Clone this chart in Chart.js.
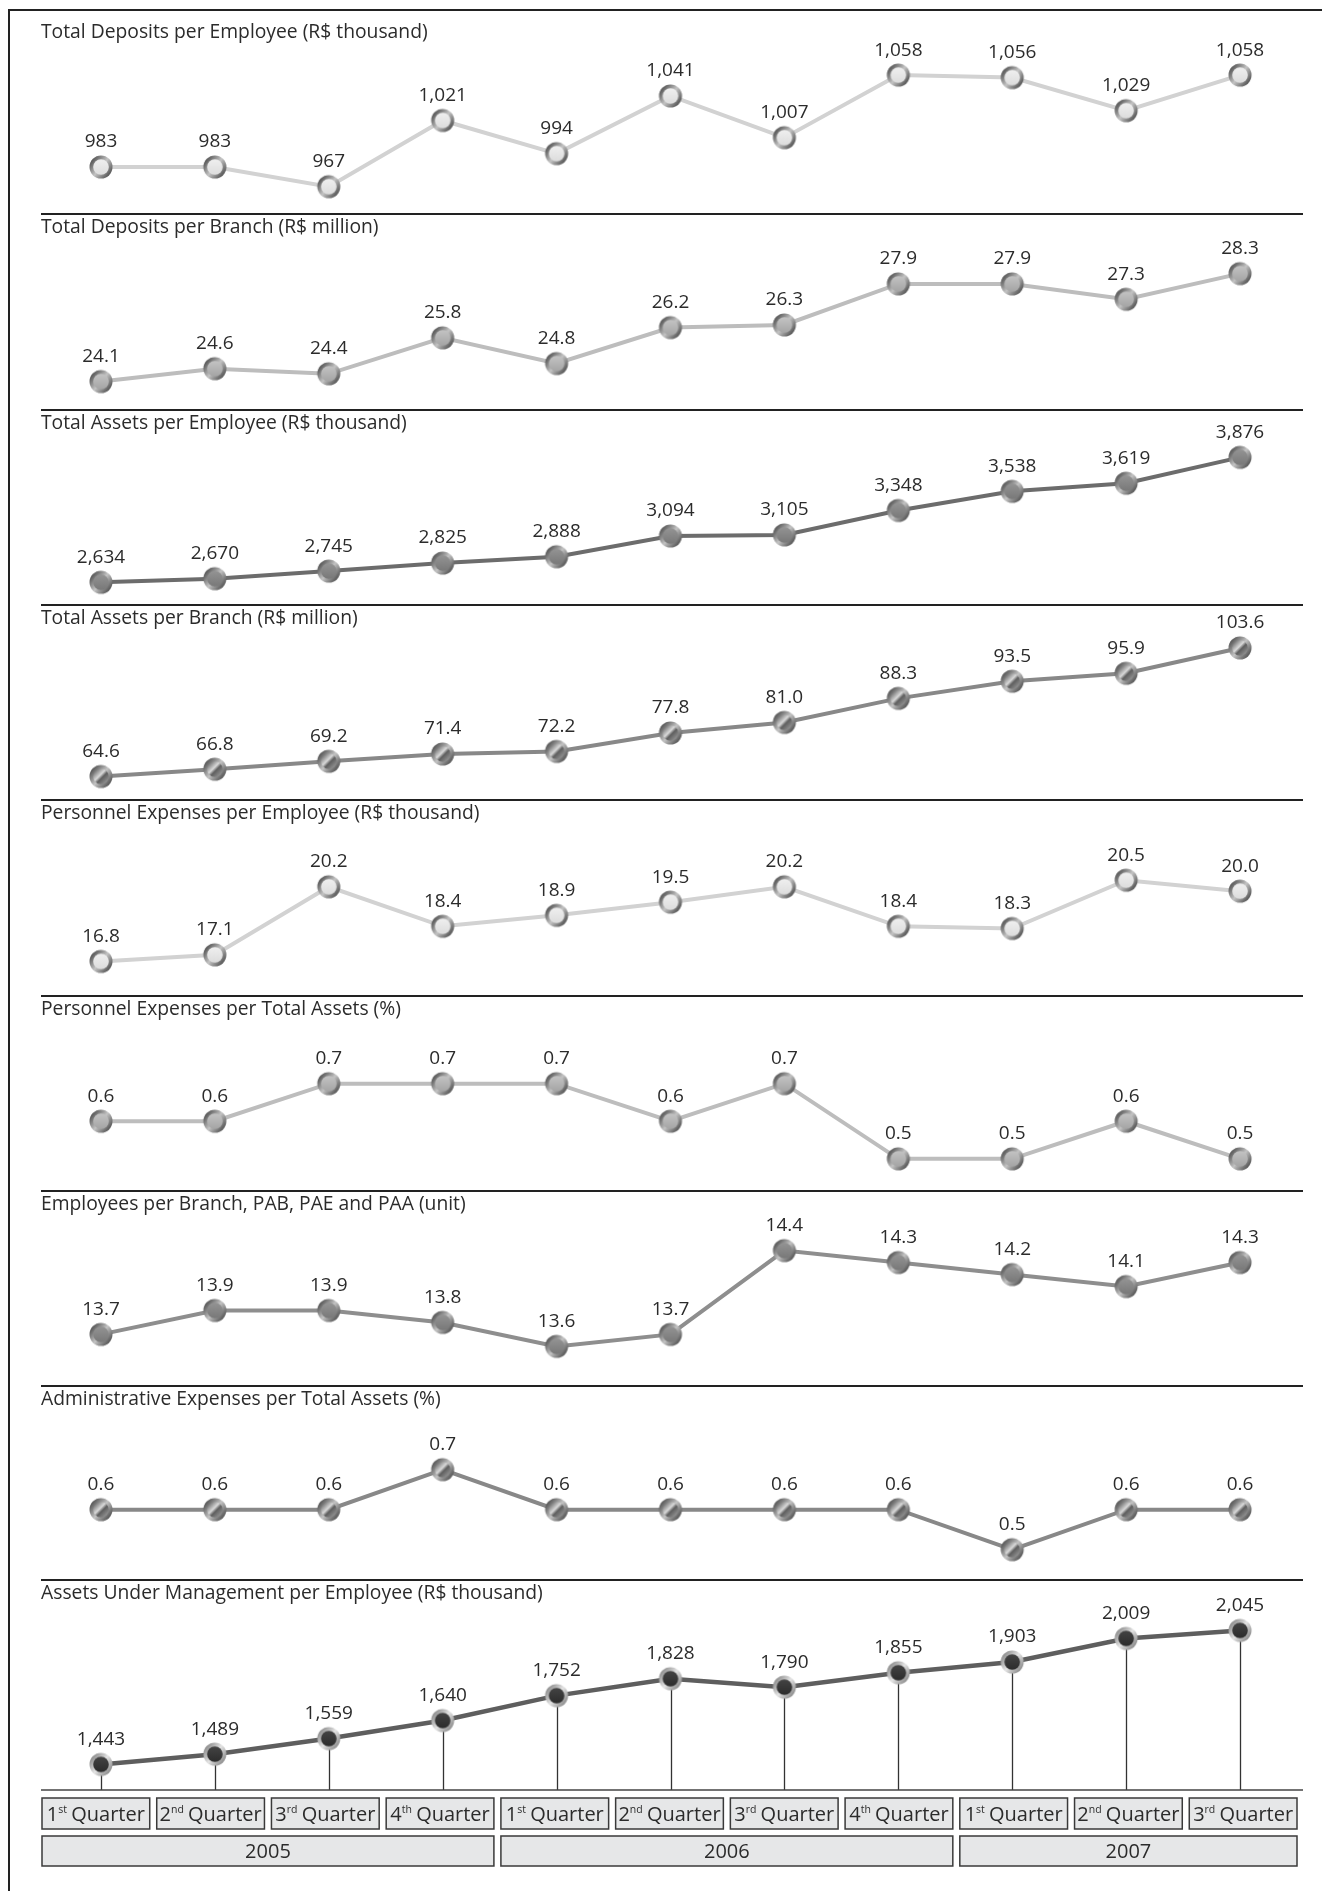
<!DOCTYPE html>
<html>
<head>
<meta charset="utf-8">
<script src="https://cdn.jsdelivr.net/npm/chart.js@4.4.0/dist/chart.umd.min.js"></script>
<style>
  body { margin: 0; background: #fff; }
  #page { position: relative; width: 1322px; height: 1891px; overflow: hidden; }
  #frame { position: absolute; left: 8px; top: 9px; width: 1400px; height: 2000px;
           border-left: 2px solid #222; border-top: 2px solid #222; }
  canvas { position: absolute; left: 0; }
</style>
</head>
<body>
<div id="page"><div id="frame"></div></div>
<script>
const quarters = ['1st', '2nd', '3rd', '4th', '1st', '2nd', '3rd', '4th', '1st', '2nd', '3rd'];
const years = ['2005', '2006', '2007'];
const yearQuarterCount = [4, 4, 3];

const depositsPerEmployee = [983, 983, 967, 1021, 994, 1041, 1007, 1058, 1056, 1029, 1058];
const depositsPerBranch = [24.1, 24.6, 24.4, 25.8, 24.8, 26.2, 26.3, 27.9, 27.9, 27.3, 28.3];
const assetsPerEmployee = [2634, 2670, 2745, 2825, 2888, 3094, 3105, 3348, 3538, 3619, 3876];
const assetsPerBranch = [64.6, 66.8, 69.2, 71.4, 72.2, 77.8, 81.0, 88.3, 93.5, 95.9, 103.6];
const personnelPerEmployee = [16.8, 17.1, 20.2, 18.4, 18.9, 19.5, 20.2, 18.4, 18.3, 20.5, 20.0];
const personnelPerAssets = [0.6, 0.6, 0.7, 0.7, 0.7, 0.6, 0.7, 0.5, 0.5, 0.6, 0.5];
const employeesPerBranch = [13.7, 13.9, 13.9, 13.8, 13.6, 13.7, 14.4, 14.3, 14.2, 14.1, 14.3];
const adminPerAssets = [0.6, 0.6, 0.6, 0.7, 0.6, 0.6, 0.6, 0.6, 0.5, 0.6, 0.6];
const aumPerEmployee = [1443, 1489, 1559, 1640, 1752, 1828, 1790, 1855, 1903, 2009, 2045];

const FONT = '"Open Sans", "DejaVu Sans", sans-serif';
const TEXT = '#2b2b2b';
const BOX_LEFT = 42, BOX_RIGHT = 1304;

// little metallic marker, drawn once per style and used as pointStyle
function makeMarker(kind) {
    const c = document.createElement('canvas');
    c.width = 26; c.height = 26;
    const g = c.getContext('2d');
    const ringDark = kind === 'dark' ? '#7a7a7a' : '#3c3c3c';
    const ringLight = kind === 'dark' ? '#e4e4e4' : '#c4c4c4';
    const rg = g.createLinearGradient(2, 4, 24, 22);
    rg.addColorStop(0, ringDark);
    rg.addColorStop(0.5, ringLight);
    rg.addColorStop(1, ringDark);
    g.beginPath(); g.arc(13, 13, 11.5, 0, Math.PI * 2); g.fillStyle = rg; g.fill();

    let inner;
    if (kind === 'striped') {
        inner = g.createLinearGradient(6, 6, 20, 20);
        inner.addColorStop(0, '#5a5a5a');
        inner.addColorStop(0.42, '#dadada');
        inner.addColorStop(0.58, '#5e5e5e');
        inner.addColorStop(1, '#a0a0a0');
    } else {
        const fills = { light: ['#f0f0f0', '#dcdcdc'], mid: ['#c4c4c4', '#a4a4a4'],
                        dark2: ['#949494', '#787878'], dark: ['#444', '#2c2c2c'] };
        const f = fills[kind];
        inner = g.createLinearGradient(13, 5, 13, 21);
        inner.addColorStop(0, f[0]);
        inner.addColorStop(1, f[1]);
    }
    g.beginPath(); g.arc(13, 13, 7.8, 0, Math.PI * 2); g.fillStyle = inner; g.fill();
    return c;
}

const panels = [
    { title: 'Total Deposits per Employee (R$ thousand)', data: depositsPerEmployee, dec: 0,
      line: '#d2d2d2', width: 4, marker: 'light', yMin: 944.7, yMax: 1104.6, top: 18 },
    { title: 'Total Deposits per Branch (R$ million)', data: depositsPerBranch, dec: 1,
      line: '#bdbdbd', width: 4, marker: 'mid', yMin: 23.03, yMax: 30.66, top: 213 },
    { title: 'Total Assets per Employee (R$ thousand)', data: assetsPerEmployee, dec: 0,
      line: '#6c6c6c', width: 4, marker: 'dark2', yMin: 2408, yMax: 4357, top: 409 },
    { title: 'Total Assets per Branch (R$ million)', data: assetsPerBranch, dec: 1,
      line: '#888888', width: 4, marker: 'striped', yMin: 57.46, yMax: 116.93, top: 604 },
    { title: 'Personnel Expenses per Employee (R$ thousand)', data: personnelPerEmployee, dec: 1,
      line: '#d2d2d2', width: 4, marker: 'light', yMin: 15.27, yMax: 24.2, top: 799 },
    { title: 'Personnel Expenses per Total Assets (%)', data: personnelPerAssets, dec: 1,
      line: '#bdbdbd', width: 4, marker: 'mid', yMin: 0.4144, yMax: 0.9358, top: 995 },
    { title: 'Employees per Branch, PAB, PAE and PAA (unit)', data: employeesPerBranch, dec: 1,
      line: '#8e8e8e', width: 4, marker: 'dark2', yMin: 13.269, yMax: 14.906, top: 1190 },
    { title: 'Administrative Expenses per Total Assets (%)', data: adminPerAssets, dec: 1,
      line: '#888888', width: 4, marker: 'striped', yMin: 0.4216, yMax: 0.9116, top: 1385 },
    { title: 'Assets Under Management per Employee (R$ thousand)', data: aumPerEmployee, dec: 0,
      line: '#5e5e5e', width: 4.5, marker: 'dark', yMin: 1328, yMax: 2276, top: 1579, axis: true }
];

const panelDecor = {
    id: 'panelDecor',
    beforeDraw(chart, args, opts) {
        const ctx = chart.ctx;
        ctx.save();
        if (opts.separator) {
            ctx.strokeStyle = '#222';
            ctx.lineWidth = 2;
            ctx.beginPath(); ctx.moveTo(41, 1); ctx.lineTo(1303, 1); ctx.stroke();
        }
        ctx.fillStyle = TEXT;
        ctx.font = '19.3px ' + FONT;
        ctx.textAlign = 'left';
        ctx.textBaseline = 'middle';
        ctx.fillText(opts.title, 41, 15);
        ctx.restore();
    },
    beforeDatasetsDraw(chart, args, opts) {
        if (!opts.axis) return;
        const ctx = chart.ctx;
        const meta = chart.getDatasetMeta(0);
        const bottom = chart.chartArea.bottom;
        ctx.save();
        ctx.strokeStyle = '#333';
        ctx.lineWidth = 1.3;
        meta.data.forEach(p => {
            ctx.beginPath(); ctx.moveTo(Math.round(p.x) + 0.5, p.y); ctx.lineTo(Math.round(p.x) + 0.5, bottom); ctx.stroke();
        });
        ctx.strokeStyle = '#444';
        ctx.lineWidth = 1.5;
        ctx.beginPath(); ctx.moveTo(41, bottom); ctx.lineTo(1303, bottom); ctx.stroke();

        // quarter boxes, one per category under the plot
        const n = quarters.length;
        const w = (BOX_RIGHT - BOX_LEFT) / n;
        const gap = 7;
        const qTop = bottom + 8, qH = 31;
        ctx.lineWidth = 1.5;
        quarters.forEach((q, i) => {
            const x0 = BOX_LEFT + i * w, bw = w - gap;
            const cx = x0 + bw / 2;
            ctx.fillStyle = '#e6e7e8';
            ctx.fillRect(x0, qTop, bw, qH);
            ctx.strokeStyle = '#3a3a3a';
            ctx.strokeRect(x0, qTop, bw, qH);
            const num = q.slice(0, 1), sup = q.slice(1), rest = ' Quarter';
            ctx.font = '20px ' + FONT;
            const wn = ctx.measureText(num).width, wr = ctx.measureText(rest).width;
            ctx.font = '10.5px ' + FONT;
            const ws = ctx.measureText(sup).width;
            let x = cx - (wn + ws + wr - 1) / 2;
            ctx.fillStyle = TEXT;
            ctx.textAlign = 'left';
            ctx.textBaseline = 'alphabetic';
            const base = qTop + 23;
            ctx.font = '20px ' + FONT; ctx.fillText(num, x, base); x += wn;
            ctx.font = '10.5px ' + FONT; ctx.fillText(sup, x, base - 8); x += ws;
            ctx.font = '20px ' + FONT; ctx.fillText(rest, x - 1, base);
        });

        // year boxes spanning their quarters
        const yTop = bottom + 46, yH = 30;
        let first = 0;
        years.forEach((yr, k) => {
            const last = first + yearQuarterCount[k] - 1;
            const x0 = BOX_LEFT + first * w;
            const x1 = BOX_LEFT + (last + 1) * w - gap;
            ctx.fillStyle = '#e6e7e8';
            ctx.fillRect(x0, yTop, x1 - x0, yH);
            ctx.strokeStyle = '#3a3a3a';
            ctx.strokeRect(x0, yTop, x1 - x0, yH);
            ctx.fillStyle = TEXT;
            ctx.font = '20px ' + FONT;
            ctx.textAlign = 'center';
            ctx.textBaseline = 'middle';
            ctx.fillText(yr, (x0 + x1) / 2, yTop + yH / 2 + 1);
            first = last + 1;
        });
        ctx.restore();
    },
    afterDatasetsDraw(chart, args, opts) {
        const ctx = chart.ctx;
        const meta = chart.getDatasetMeta(0);
        const values = chart.data.datasets[0].data;
        ctx.save();
        ctx.fillStyle = TEXT;
        ctx.font = '19px ' + FONT;
        ctx.textAlign = 'center';
        ctx.textBaseline = 'middle';
        meta.data.forEach((p, i) => {
            const txt = values[i].toLocaleString('en-US', { minimumFractionDigits: opts.dec, maximumFractionDigits: opts.dec });
            ctx.fillText(txt, p.x, p.y - 25);
        });
        ctx.restore();
    }
};

const page = document.getElementById('page');

panels.forEach((p, idx) => {
    const canvas = document.createElement('canvas');
    const h = p.axis ? 312 : 196;
    canvas.width = 1322;
    canvas.height = h;
    canvas.style.top = p.top + 'px';
    canvas.style.width = '1322px';
    canvas.style.height = h + 'px';
    page.appendChild(canvas);

    new Chart(canvas.getContext('2d'), {
        type: 'line',
        data: {
            labels: quarters,
            datasets: [{
                data: p.data,
                borderColor: p.line,
                borderWidth: p.width,
                pointStyle: makeMarker(p.marker),
                pointRadius: 11,
                tension: 0,
                clip: false
            }]
        },
        options: {
            responsive: false,
            animation: false,
            devicePixelRatio: 1,
            layout: { autoPadding: false, padding: { left: 44, right: 25, top: 0, bottom: p.axis ? 101 : 0 } },
            scales: {
                x: { display: false, offset: true },
                y: { display: false, min: p.yMin, max: p.yMax }
            },
            plugins: {
                legend: { display: false },
                tooltip: { enabled: false },
                panelDecor: { title: p.title, dec: p.dec, separator: idx > 0, axis: !!p.axis }
            }
        },
        plugins: [panelDecor]
    });
});
</script>
</body>
</html>
